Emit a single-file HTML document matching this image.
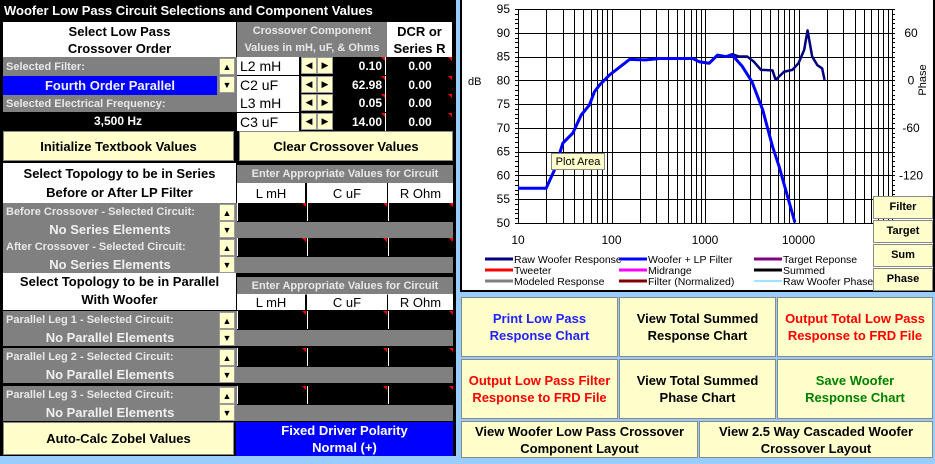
<!DOCTYPE html>
<html><head><meta charset="utf-8"><style>
body{margin:0;width:935px;height:464px;background:#99ccff;overflow:hidden;font-family:"Liberation Sans",sans-serif;position:relative}
.a{position:absolute;box-sizing:border-box}
.c{display:flex;align-items:center;justify-content:center;text-align:center}
.b{font-weight:bold}
.y{background:#ffffcc;border:1px solid #888;font-weight:bold;font-size:13px;line-height:17px}
.ab{background:#ffffcc;border:1px solid #999;width:16px;height:17px;font-size:9px;display:flex;align-items:center;justify-content:center}
.g{background:#808080}
.lbl{color:#e8e8e8;font-size:11px;font-weight:bold;padding-left:3px;display:flex;align-items:center}
.sel{color:#f0f0f0;font-size:13px;font-weight:bold;display:flex;align-items:center;justify-content:center}
.wh{background:#fff;font-size:13px;font-weight:bold}
.bk{background:#000;color:#fff;font-weight:bold;font-size:12px}
.tri{position:absolute;right:0;top:0;width:0;height:0;border-left:4px solid transparent;border-top:4px solid #f00}
</style></head><body>
<div class="a" style="left:0;top:0;width:456px;height:456px;background:#000"></div>
<div class="a b" style="left:4px;top:3px;font-size:13px;color:#fff">Woofer Low Pass Circuit Selections and Component Values</div>
<div class="a c wh" style="left:3px;top:22px;width:233px;height:35px;font-size:13px;line-height:17px">Select Low Pass<br>Crossover Order</div>
<div class="a c g b" style="left:237px;top:22px;width:150px;height:35px;color:#e8e8e8;font-size:11px;line-height:17px">Crossover Component<br>Values in mH, uF, &amp; Ohms</div>
<div class="a c wh" style="left:387px;top:22px;width:65px;height:35px;line-height:17px">DCR or<br>Series R</div>
<div class="a g lbl" style="left:3px;top:57px;width:214px;height:19px">Selected Filter:</div>
<div class="a sel" style="left:3px;top:76px;width:214px;height:19px;background:#0000ff">Fourth Order Parallel</div>
<div class="a g" style="left:217px;top:57px;width:20px;height:38px"></div>
<div class="a ab" style="left:219px;top:58px">▲</div>
<div class="a ab" style="left:219px;top:76px">▼</div>
<div class="a g lbl" style="left:3px;top:95px;width:234px;height:17px">Selected Electrical Frequency:</div>
<div class="a c b" style="left:3px;top:112px;width:230px;height:18px;color:#fff;font-size:12px">3,500 Hz</div>
<div id="comp"></div>
<div class="a c y" style="left:3px;top:131px;width:231px;height:30px">Initialize Textbook Values</div>
<div class="a c y" style="left:239px;top:131px;width:214px;height:30px">Clear Crossover Values</div>
<div class="a c wh" style="left:3px;top:163px;width:233px;height:40px;line-height:19px">Select Topology to be in Series<br>Before or After LP Filter</div>
<div class="a c wh" style="left:3px;top:272px;width:233px;height:38px;line-height:18px">Select Topology to be in Parallel<br>With Woofer</div>
<div id="rows"></div>
<div class="a c y" style="left:3px;top:422px;width:231px;height:33px">Auto-Calc Zobel Values</div>
<div class="a c b" style="left:236px;top:422px;width:217px;height:34px;background:#0000ff;color:#fff;font-size:13px;line-height:17px">Fixed Driver Polarity<br>Normal (+)</div>

<div class="a" style="left:460px;top:0;width:475px;height:292px;background:#fff;border:2px solid #000;border-top:none"></div>
<svg class="a" style="left:0;top:0" width="935" height="292" id="chart"></svg>
<div class="a c" style="left:551px;top:153px;width:54px;height:17px;background:#ffffcc;border:1px solid #888;font-size:11px">Plot Area</div>
<div class="a c y" style="left:873px;top:196px;width:60px;height:23px;font-size:11px">Filter</div>
<div class="a c y" style="left:873px;top:220px;width:60px;height:23px;font-size:11px">Target</div>
<div class="a c y" style="left:873px;top:244px;width:60px;height:23px;font-size:11px">Sum</div>
<div class="a c y" style="left:873px;top:268px;width:60px;height:23px;font-size:11px">Phase</div>

<div class="a c y" style="left:461px;top:297px;width:157px;height:60px;color:#2222ff">Print Low Pass<br>Response Chart</div>
<div class="a c y" style="left:619px;top:297px;width:157px;height:60px;color:#000">View Total Summed<br>Response Chart</div>
<div class="a c y" style="left:777px;top:297px;width:156px;height:60px;color:#ff0000">Output Total Low Pass<br>Response to FRD File</div>
<div class="a c y" style="left:461px;top:359px;width:157px;height:60px;color:#ff0000">Output Low Pass Filter<br>Response to FRD File</div>
<div class="a c y" style="left:619px;top:359px;width:157px;height:60px;color:#000">View Total Summed<br>Phase Chart</div>
<div class="a c y" style="left:777px;top:359px;width:156px;height:60px;color:#008000">Save Woofer<br>Response Chart</div>
<div class="a c y" style="left:461px;top:421px;width:237px;height:37px;color:#000">View Woofer Low Pass Crossover<br>Component Layout</div>
<div class="a c y" style="left:699px;top:421px;width:234px;height:37px;color:#000">View 2.5 Way Cascaded Woofer<br>Crossover Layout</div>

<script>
const compLabels=["L2 mH","C2  uF","L3 mH","C3  uF"];
const compValues=["0.10","62.98","0.05","14.00"];
const dcrValues=["0.00","0.00","0.00","0.00"];
const comp=document.getElementById('comp');
let h='';
for(let i=0;i<4;i++){const t=57+i*18.5;
h+=`<div class="a wh" style="left:237px;top:${t}px;width:62px;height:18px;padding-left:3px;line-height:18px;font-weight:normal;font-size:14px">${compLabels[i]}</div>`;
h+=`<div class="a ab" style="left:301px;top:${t}px">◀</div>`;
h+=`<div class="a ab" style="left:317px;top:${t}px">▶</div>`;
h+=`<div class="a bk" style="left:334px;top:${t}px;width:52px;height:18px;text-align:right;padding-right:3px;line-height:18px;border-right:1px solid #fff">${compValues[i]}<span class="tri"></span></div>`;
h+=`<div class="a bk" style="left:388px;top:${t}px;width:64px;height:18px;text-align:center;line-height:18px">${dcrValues[i]}<span class="tri"></span></div>`;}
comp.outerHTML=h;
const groups=[
 {hdr:165,sub:183,rows:[["Before Crossover - Selected Circuit:","No Series Elements",203],["After Crossover - Selected Circuit:","No Series Elements",238]]},
 {hdr:277,sub:294,rows:[["Parallel Leg 1 - Selected Circuit:","No Parallel Elements",311],["Parallel Leg 2 - Selected Circuit:","No Parallel Elements",348],["Parallel Leg 3 - Selected Circuit:","No Parallel Elements",386]]}];
let r='';
groups.forEach((g,gi)=>{
 r+=`<div class="a c g b" style="left:237px;top:${g.hdr}px;width:216px;height:18px;color:#e8e8e8;font-size:11px">Enter Appropriate Values for Circuit</div>`;
 [["L mH",237,68],["C uF",307,80],["R Ohm",388,65]].forEach(s=>{r+=`<div class="a c wh" style="left:${s[1]}px;top:${g.sub}px;width:${s[2]}px;height:${gi?16:20}px;font-weight:normal;font-size:13px">${s[0]}</div>`;});
 g.rows.forEach((w,i)=>{const t=w[2];
 r+=`<div class="a g lbl" style="left:3px;top:${t}px;width:234px;height:18px">${w[0]}</div>`;
 r+=`<div class="a g sel" style="left:3px;top:${t+18}px;width:234px;height:17px;padding-right:20px">${w[1]}</div>`;
 r+=`<div class="a ab" style="left:219px;top:${t+1}px">▲</div>`;
 r+=`<div class="a ab" style="left:219px;top:${t+18}px">▼</div>`;
 [[237,69],[307,80],[388,65]].forEach(c=>{r+=`<div class="a" style="left:${c[0]}px;top:${t}px;width:${c[1]}px;height:18px;background:#000;border-left:1px solid #fff"><span class="tri"></span></div>`;});
 r+=`<div class="a g" style="left:237px;top:${t+19}px;width:216px;height:16px"></div>`;});
});
document.getElementById('rows').outerHTML=r;

const rawFreq=[10,20,24.6,30.2,38.6,47.4,58,65.7,74.5,95,112,156,234,326,738,870,1110,1360,1670,1960,2310,2830,3340,3960,5270,5700,7000,8600,10000,11500,12500,14000,15900,17900,19000];
const rawDb=[57.3,57.3,61.2,66.8,68.9,72.7,74.8,77.6,79,81.1,82.2,84.4,84.3,84.6,84.6,83.9,83.6,85.3,85,85.5,85,85,83.9,82.2,82.1,80.1,81.8,82.2,83.6,86.4,90.5,85,83.2,82.5,80.1];
const lpFreq=[10,20,24.6,30.2,38.6,47.4,58,65.7,74.5,95,112,156,234,326,738,870,1110,1360,1670,1960,2510,3180,4140,5270,6200,7630,9160];
const lpDb=[57.3,57.3,61.2,66.8,68.9,72.7,74.8,77.6,79,81.1,82.2,84.4,84.3,84.6,84.6,83.9,83.6,85.3,85,85.3,82.9,79.7,73.8,66.1,61.9,55.6,50.1];
const xTicks=[10,100,1000,10000];
const yTicks=[50,55,60,65,70,75,80,85,90,95];
const phaseTicks=[60,0,-60,-120];
const legendNames=["Raw Woofer Response","Woofer + LP Filter","Target Reponse","Tweeter","Midrange","Summed","Modeled Response","Filter (Normalized)","Raw Woofer Phase"];
const legendColors=["#000080","#0000ff","#800080","#ff0000","#ff00ff","#000000","#808080","#800000","#33ccff"];

const X0=518,X1=892,Y0=223,Y1=9,LX0=1,LX1=5,D0=50,D1=95;
const xs=f=>X0+(Math.log10(f)-LX0)/(LX1-LX0)*(X1-X0);
const ys=d=>Y0-(d-D0)/(D1-D0)*(Y0-Y1);
const ph=p=>ys(80+p/6);
const svg=document.getElementById('chart');
const NS='http://www.w3.org/2000/svg';
function el(t,a,txt){const e=document.createElementNS(NS,t);for(const k in a)e.setAttribute(k,a[k]);if(txt!==undefined)e.textContent=txt;svg.appendChild(e);return e;}
const rd=v=>Math.round(v)+0.5;
for(let d=LX0;d<LX1;d++)for(let m=1;m<10;m++){const x=rd(xs(m*Math.pow(10,d)));
 const e=el('line',{x1:x,x2:x,y1:Y1,y2:Y0,stroke:'#000','stroke-width':1,'shape-rendering':'crispEdges'});
 
 }
yTicks.forEach(v=>{const yy=rd(ys(v));const e=el('line',{x1:X0,x2:X1,y1:yy,y2:yy,stroke:'#000','stroke-width':1,'shape-rendering':'crispEdges'});
 
 
 const t=el('text',{x:X0-8,y:ys(v)+4,'text-anchor':'end','font-size':12,fill:'#000'},v);
 
 });
for(let v=D0;v<=D1;v++){const yy=rd(ys(v));el('line',{x1:X0-3,x2:X0,y1:yy,y2:yy,stroke:'#000','shape-rendering':'crispEdges'});el('line',{x1:X1,x2:X1+3,y1:yy,y2:yy,stroke:'#000','shape-rendering':'crispEdges'});}
el('line',{x1:rd(X1),x2:rd(X1),y1:Y1,y2:Y0,stroke:'#000','shape-rendering':'crispEdges'});
xTicks.forEach(v=>{const t=el('text',{x:xs(v),y:244,'text-anchor':'middle','font-size':12,fill:'#000'},v);
 
 });
phaseTicks.forEach(v=>{const t=el('text',{x:911,y:ph(v)+4,'text-anchor':'middle','font-size':12,fill:'#000'},v);
 
 });
const yl=el('text',{x:468,y:85,'font-size':11,fill:'#000'},'dB');


const pl=el('text',{x:0,y:0,'font-size':11,fill:'#000',transform:'translate(926,80) rotate(-90)','text-anchor':'middle'},'Phase');


const line=(F,D,c,w,n)=>{const p=el('polyline',{points:F.map((f,i)=>xs(f)+','+ys(D[i])).join(' '),fill:'none',stroke:c,'stroke-width':w,'stroke-linejoin':'round'});
 
 };
line(rawFreq,rawDb,'#000080',2.5,'raw-woofer-line');
line(lpFreq,lpDb,'#0000ff',3,'woofer-lp-line');
legendNames.forEach((n,i)=>{const col=i%3,row=Math.floor(i/3);const lx=[485,619,754][col],ly=259+row*11;
 const g=el('g',{});
 
 
 const l=document.createElementNS(NS,'line');[['x1',lx],['x2',lx+28],['y1',ly],['y2',ly],['stroke',legendColors[i]],['stroke-width',i==8?1:3]].forEach(a=>l.setAttribute(a[0],a[1]));g.appendChild(l);
 const t=document.createElementNS(NS,'text');t.setAttribute('x',lx+29);t.setAttribute('y',ly+4);t.setAttribute('font-size',10.5);t.textContent=n;g.appendChild(t);});
</script>
</body></html>
